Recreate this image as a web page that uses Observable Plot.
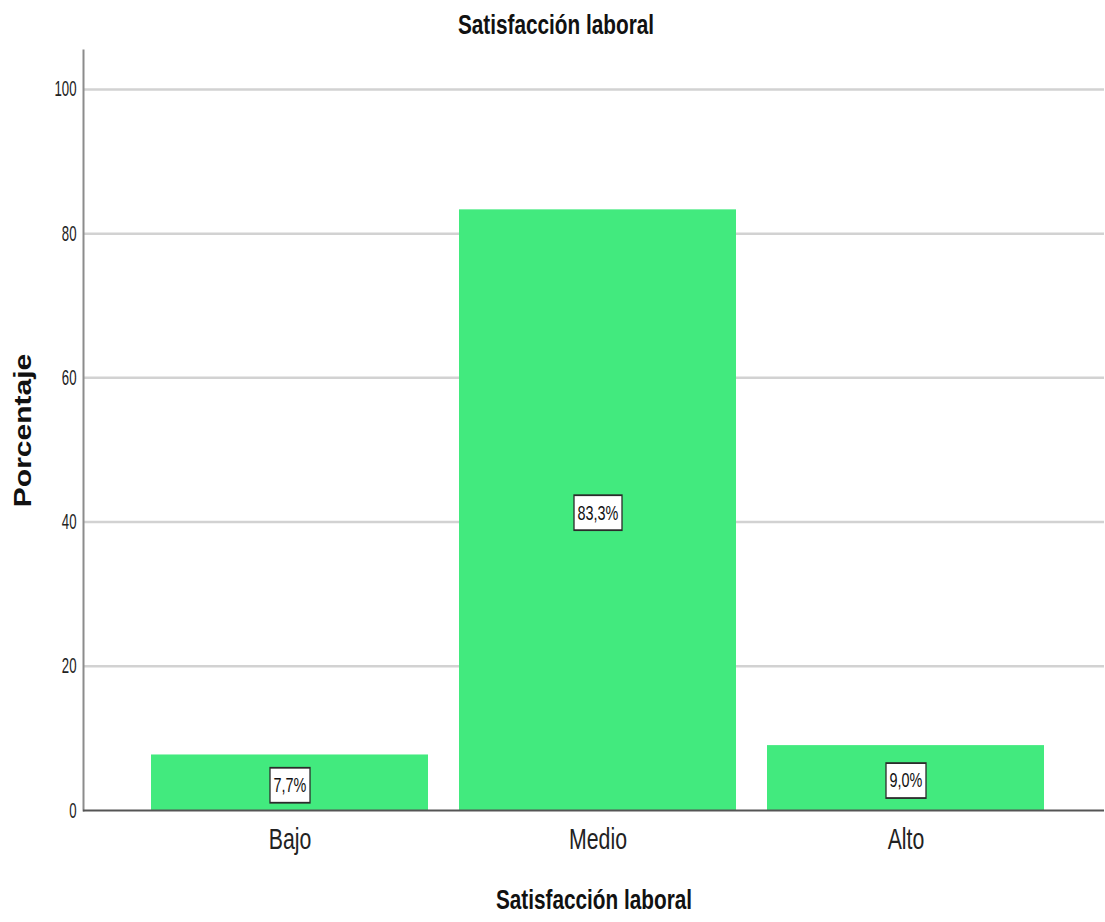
<!DOCTYPE html>
<html>
<head>
<meta charset="utf-8">
<script src="https://cdn.jsdelivr.net/npm/d3@7"></script>
<script src="https://cdn.jsdelivr.net/npm/@observablehq/plot@0.6"></script>
<style>
  html, body { margin: 0; padding: 0; background: #ffffff; }
  svg { display: block; }
</style>
</head>
<body>
<div id="chart"></div>
<script>
// Satisfacción laboral — porcentaje por nivel
const categories = ["Bajo", "Medio", "Alto"];
const percentages = [7.7, 83.3, 9.0];
const yTicks = [0, 20, 40, 60, 80, 100];

const chartTitle = "Satisfacción laboral";
const xTitle = "Satisfacción laboral";
const yTitle = "Porcentaje";

const data = categories.map((c, i) => ({ category: c, value: percentages[i] }));

const font = "'Liberation Sans', Arial, sans-serif";
const fmt = v => v.toFixed(1).replace(".", ",") + "%";

const plot = Plot.plot({
  width: 1105,
  height: 922,
  marginLeft: 83,
  marginRight: 1,
  marginTop: 50,
  marginBottom: 112,
  style: { fontFamily: font, background: "#ffffff", color: "#222" },
  x: { type: "band", domain: categories, paddingInner: 0.1, paddingOuter: 0.205, align: 0.53, label: null },
  y: { domain: [0, 105.4], label: null },
  marks: [
    // horizontal gridlines
    Plot.ruleY(yTicks.filter(t => t > 0), { stroke: "#d2d2d2", strokeWidth: 2.5 }),
    // bars
    Plot.barY(data, { x: "category", y: "value", fill: "#42ea7e" }),
    // axis lines
    Plot.frame({ anchor: "left", stroke: "#8c8c8c", strokeWidth: 2 }),
    Plot.ruleY([0], { stroke: "#555555", strokeWidth: 2 }),
    Plot.axisY({ ticks: yTicks, tickSize: 0, tickPadding: 7, fontSize: 22, fill: "#222", label: null }),
    Plot.axisX({ tickSize: 0, tickPadding: 17, fontSize: 30, fill: "#222", label: null }),
    // value labels at half the bar height
    Plot.text(data, {
      x: "category",
      y: d => d.value / 2,
      text: d => fmt(d.value),
      fontSize: 20,
      fill: "#111",
      dy: 3
    }),
    // titles
    Plot.text([chartTitle], { frameAnchor: "top", dx: -38, dy: -25, lineAnchor: "middle", fontSize: 27.5, fontWeight: "bold", fill: "#111" }),
    Plot.text([xTitle], { frameAnchor: "bottom", dy: 90, lineAnchor: "middle", fontSize: 27.5, fontWeight: "bold", fill: "#111" }),
    Plot.text([yTitle], { frameAnchor: "left", dx: -60, rotate: -90, textAnchor: "middle", lineAnchor: "middle", fontSize: 30, fontWeight: "bold", fill: "#111" })
  ]
});

document.getElementById("chart").appendChild(plot);

// condensed lettering: squeeze glyphs horizontally around their anchor
function squeeze(t, sx, sy = 1) {
  const x = +(t.getAttribute("x") || 0);
  const tr = t.getAttribute("transform") || "";
  t.setAttribute("transform", `${tr} translate(${x},0) scale(${sx},${sy}) translate(${-x},0)`.trim());
}
plot.querySelectorAll('g[aria-label="y-axis tick label"] text').forEach(t => squeeze(t, 0.6));
plot.querySelectorAll('g[aria-label="x-axis tick label"] text').forEach(t => squeeze(t, 0.71));

const ns = "http://www.w3.org/2000/svg";
plot.querySelectorAll('g[aria-label="text"] text').forEach(t => {
  const s = t.textContent;
  if (s === yTitle) { squeeze(t, 1, 0.78); return; }
  if (s === chartTitle) { squeeze(t, 0.755); return; }
  if (!s.endsWith("%")) return;
  // value label: white box with a dark border
  squeeze(t, 0.72);
  const b = t.getBBox();
  const r = document.createElementNS(ns, "rect");
  const w = b.width + 10, h = b.height + 12;
  r.setAttribute("x", b.x + b.width / 2 - w / 2);
  r.setAttribute("y", b.y + b.height / 2 - h / 2);
  r.setAttribute("width", w);
  r.setAttribute("height", h);
  r.setAttribute("fill", "#ffffff");
  r.setAttribute("stroke", "#2b2b2b");
  r.setAttribute("stroke-width", 1.8);
  r.setAttribute("transform", t.getAttribute("transform"));
  t.parentNode.insertBefore(r, t);
});
</script>
</body>
</html>
